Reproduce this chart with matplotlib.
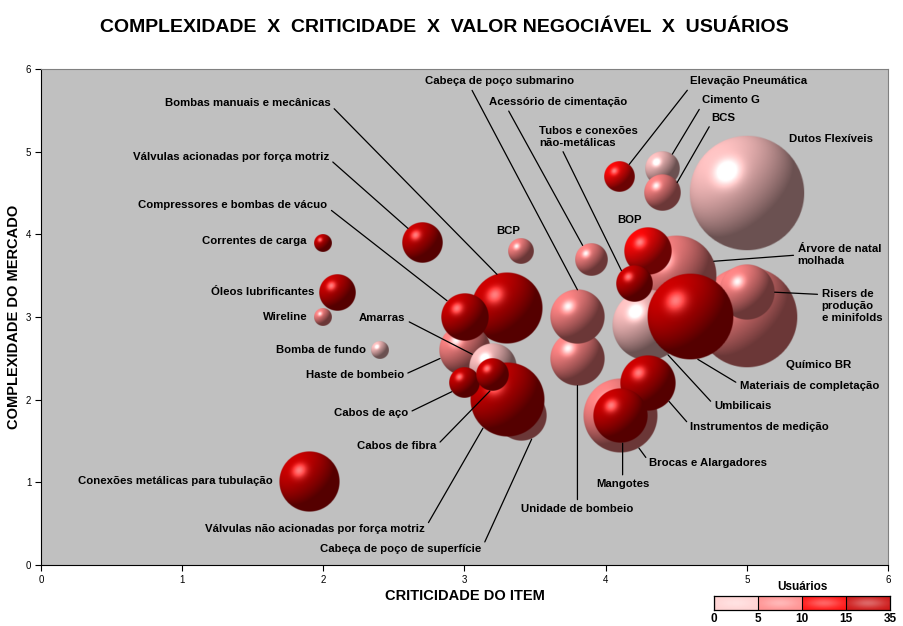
import numpy as np
import matplotlib.pyplot as plt

plt.rcParams['font.family'] = ['Liberation Sans', 'DejaVu Sans']

# itens na ordem de desenho (de tras para frente)
itens = ['Químico BR', 'Dutos Flexíveis', 'Árvore de natal\nmolhada', 'Umbilicais',
         'Risers de\nprodução\ne minifolds', 'Materiais de completação', 'BOP',
         'Tubos e conexões\nnão-metálicas', 'Brocas e Alargadores', 'Instrumentos de medição',
         'Mangotes', 'Elevação Pneumática', 'Cimento G', 'BCS', 'Acessório de cimentação',
         'Unidade de bombeio', 'Cabeça de poço submarino', 'BCP', 'Bombas manuais e mecânicas',
         'Haste de bombeio', 'Compressores e bombas de vácuo', 'Cabeça de poço de superfície',
         'Amarras', 'Válvulas não acionadas por força motriz', 'Cabos de aço', 'Cabos de fibra',
         'Válvulas acionadas por força motriz', 'Correntes de carga', 'Óleos lubrificantes',
         'Wireline', 'Bomba de fundo', 'Conexões metálicas para tubulação']
criticidade = [5.0, 5.0, 4.5, 4.3, 5.0, 4.6, 4.3, 4.2, 4.1, 4.3, 4.1, 4.1, 4.4, 4.4, 3.9,
               3.8, 3.8, 3.4, 3.3, 3.0, 3.0, 3.4, 3.2, 3.3, 3.0, 3.2, 2.7, 2.0, 2.1, 2.0, 2.4, 1.9]
complexidade = [3.0, 4.5, 3.5, 2.9, 3.3, 3.0, 3.8, 3.4, 1.8, 2.2, 1.8, 4.7, 4.8, 4.5, 3.7,
                2.5, 3.0, 3.8, 3.1, 2.6, 3.0, 1.8, 2.4, 2.0, 2.2, 2.3, 3.9, 3.9, 3.3, 3.0, 2.6, 1.0]
valor = [77, 100, 48, 38, 23, 55, 17, 10, 41, 23, 22, 7, 9, 10, 8,
         22, 22, 5, 38, 20, 17, 19, 17, 41, 7, 8, 12, 2.4, 10, 2.4, 2.4, 27]
usuarios = [7, 3, 8, 2, 6, 20, 12, 18, 9, 22, 25, 13, 4, 6, 7,
            8, 6, 7, 30, 8, 20, 9, 4, 35, 17, 19, 21, 16, 24, 6, 1, 28]

faixas = [0, 5, 10, 15, 35]
cores_faixa = [(1.0, 0.76, 0.76), (1.0, 0.52, 0.52), (1.0, 0.03, 0.03), (0.80, 0.0, 0.0)]
cores_legenda = ['#ffd2d2', '#ff9090', '#ff1010', '#cc1414']

# posicao dos rotulos: x, y, alinhamento, angulo da linha na bolha, ponto de saida no texto
rotulos = {
    'Químico BR': (5.28, 2.42, 'left', None, None),
    'Dutos Flexíveis': (5.30, 5.15, 'left', None, None),
    'Árvore de natal\nmolhada': (5.36, 3.75, 'left', 21, (0, 0.5)),
    'Umbilicais': (4.77, 1.92, 'left', 304, (0, 0.6)),
    'Risers de\nprodução\ne minifolds': (5.53, 3.13, 'left', 0, (0, 0.85)),
    'Materiais de completação': (4.95, 2.17, 'left', 280, (0, 0.6)),
    'BOP': (4.17, 4.17, 'center', None, None),
    'Tubos e conexões\nnão-metálicas': (3.53, 5.18, 'left', 133, (0.22, 0)),
    'Brocas e Alargadores': (4.31, 1.23, 'left', 301, (0, 0.6)),
    'Instrumentos de medição': (4.60, 1.67, 'left', 319, (0, 0.6)),
    'Mangotes': (4.12, 0.98, 'center', 276, (0.5, 1)),
    'Elevação Pneumática': (4.60, 5.85, 'left', 52, (0, 0)),
    'Cimento G': (4.68, 5.62, 'left', 54, (0, 0)),
    'BCS': (4.75, 5.41, 'left', 35, (0, 0)),
    'Acessório de cimentação': (3.66, 5.60, 'center', 123, (0.13, 0)),
    'Unidade de bombeio': (3.80, 0.68, 'center', 270, (0.5, 1)),
    'Cabeça de poço submarino': (3.25, 5.85, 'center', 90, (0.3, 0)),
    'BCP': (3.31, 4.04, 'center', None, None),
    'Bombas manuais e mecânicas': (2.05, 5.59, 'right', 106, (1, 0.3)),
    'Haste de bombeio': (2.57, 2.30, 'right', 199, (1, 0.5)),
    'Compressores e bombas de vácuo': (2.03, 4.35, 'right', 137, (1, 0.3)),
    'Cabeça de poço de superfície': (3.12, 0.19, 'right', 295, (1, 0.5)),
    'Amarras': (2.58, 2.99, 'right', 149, (1, 0.3)),
    'Válvulas não acionadas por força motriz': (2.72, 0.44, 'right', 230, (1, 0.5)),
    'Cabos de aço': (2.60, 1.84, 'right', 214, (1, 0.5)),
    'Cabos de fibra': (2.80, 1.44, 'right', 260, (1, 0.5)),
    'Válvulas acionadas por força motriz': (2.04, 4.94, 'right', 135, (1, 0.3)),
    'Correntes de carga': (1.88, 3.92, 'right', None, None),
    'Óleos lubrificantes': (1.94, 3.30, 'right', None, None),
    'Wireline': (1.89, 3.00, 'right', None, None),
    'Bomba de fundo': (2.30, 2.60, 'right', None, None),
    'Conexões metálicas para tubulação': (1.64, 1.02, 'right', None, None),
}


def esfera(base, n=140):
    t = np.linspace(-1, 1, n)
    u, v = np.meshgrid(t, t)
    r2 = u ** 2 + v ** 2
    nz = np.sqrt(np.clip(1 - r2, 0, 1))
    luz = np.array([-0.6, 0.65, 0.5])
    luz = luz / np.linalg.norm(luz)
    h = luz + np.array([0, 0, 1.0])
    h = h / np.linalg.norm(h)
    dif = np.clip(u * luz[0] + v * luz[1] + nz * luz[2], 0, 1)
    spec = np.clip(u * h[0] + v * h[1] + nz * h[2], 0, 1) ** 35
    rgb = np.array(base)[None, None, :] * (0.42 + 0.6 * dif)[..., None] + 0.5 * spec[..., None]
    rgb = np.clip(rgb, 0, 1)
    alfa = np.clip((1 - np.sqrt(r2)) * n / 2, 0, 1)
    return np.dstack([rgb, alfa])


def faixa(u):
    for k in range(4):
        if u <= faixas[k + 1]:
            return k
    return 3


fig = plt.figure(figsize=(9.04, 6.26), dpi=100)
ax = fig.add_axes([41 / 904, 61 / 626, 847 / 904, 496 / 626])
ax.set_facecolor('#c0c0c0')
sx = ax.bbox.width / 6
sy = ax.bbox.height / 6
escala = 5.8  # raio em pixels = escala * sqrt(valor)

for i, nome in enumerate(itens):
    x, y = criticidade[i], complexidade[i]
    r = escala * np.sqrt(valor[i])
    rx, ry = r / sx, r / sy
    ax.imshow(esfera(cores_faixa[faixa(usuarios[i])]), extent=[x - rx, x + rx, y - ry, y + ry],
              origin='lower', interpolation='bilinear', aspect='auto', zorder=2 + i * 0.01)

    lx, ly, ha, ang, rp = rotulos[nome]
    if ang is None:
        ax.text(lx, ly, nome, ha=ha, va='center', fontsize=8.2, fontweight='bold', zorder=50)
    else:
        a = np.radians(ang)
        ex = x + r * np.cos(a) / sx
        ey = y + r * np.sin(a) / sy
        ax.annotate(nome, xy=(ex, ey), xytext=(lx, ly), ha=ha, va='center', fontsize=8.2,
                    fontweight='bold', zorder=50, linespacing=1.22,
                    arrowprops=dict(arrowstyle='-', color='black', lw=0.9,
                                    shrinkA=1, shrinkB=0, relpos=rp))

ax.set_xlim(0, 6)
ax.set_ylim(0, 6)
ax.set_xticks(range(7))
ax.set_yticks(range(7))
ax.tick_params(direction='out', length=4, width=0.8, labelsize=7, pad=3)
ax.spines['top'].set_color('#808080')
ax.spines['right'].set_color('#808080')
ax.set_xlabel('CRITICIDADE DO ITEM', fontsize=10.5, fontweight='bold', labelpad=3)
ax.set_ylabel('COMPLEXIDADE DO MERCADO', fontsize=10.5, fontweight='bold')
ax.yaxis.set_label_coords(-0.024, 0.5)

fig.text(444 / 904, 1 - 27 / 626, 'COMPLEXIDADE  X  CRITICIDADE  X  VALOR NEGOCIÁVEL  X  USUÁRIOS',
         ha='center', va='center', fontsize=14, fontweight='bold')

# legenda de usuarios
lg = fig.add_axes([714 / 904, 16 / 626, 176 / 904, 14 / 626])
t = np.linspace(-1, 1, 60)
gu, gv = np.meshgrid(t, np.linspace(-1, 1, 12))
brilho = np.exp(-(gu ** 2 + gv ** 2) * 1.5) * 0.35
for k, c in enumerate(cores_legenda):
    base = np.array(plt.matplotlib.colors.to_rgb(c))
    img = base[None, None, :] * (1 - brilho[..., None]) + brilho[..., None]
    lg.imshow(img, extent=[k, k + 1, 0, 1], aspect='auto', interpolation='bilinear')
    lg.plot([k, k], [0, 1], color='black', lw=0.8)
lg.set_xlim(0, 4)
lg.set_ylim(0, 1)
lg.set_xticks([])
lg.set_yticks([])
for s in lg.spines.values():
    s.set_linewidth(0.9)
fig.text(802 / 904, 1 - 587 / 626, 'Usuários', ha='center', va='center', fontsize=8.5, fontweight='bold')
for k, f in enumerate(faixas):
    fig.text((714 + 44 * k) / 904, 1 - 619 / 626, str(f), ha='center', va='center',
             fontsize=8.5, fontweight='bold')

fig.savefig('out.png', dpi=100)
